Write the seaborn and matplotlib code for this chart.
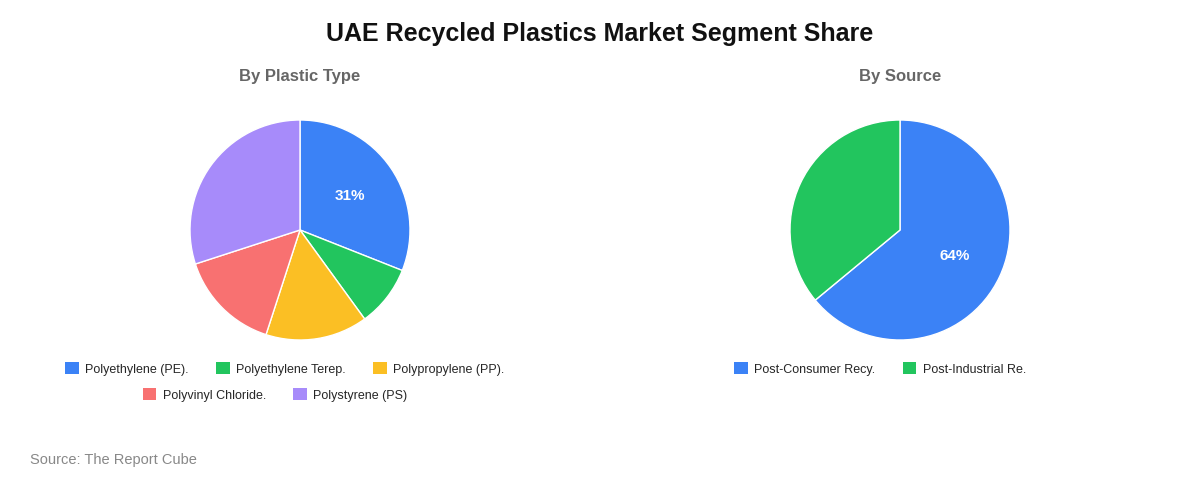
import matplotlib
matplotlib.use("Agg")
import matplotlib.pyplot as plt
import seaborn as sns
import numpy as np
from matplotlib.patches import Patch

type_labels = ["Polyethylene (PE).", "Polyethylene Terep.", "Polypropylene (PP).",
               "Polyvinyl Chloride.", "Polystyrene (PS)"]
type_values = [31, 9, 15, 15, 30]
type_colors = ["#3b82f6", "#22c55e", "#fbbf24", "#f87171", "#a78bfa"]

source_labels = ["Post-Consumer Recy.", "Post-Industrial Re."]
source_values = [64, 36]
source_colors = ["#3b82f6", "#22c55e"]

sns.set_style("white")
plt.rcParams['font.family'] = ['Liberation Sans', 'DejaVu Sans']

fig = plt.figure(figsize=(12, 4.8), dpi=100)
W, H = 1200, 480


def pie_axes(cx, cy, r):
    return fig.add_axes([(cx - r) / W, (H - cy - r) / H, 2 * r / W, 2 * r / H])


def draw_pie(ax, values, colors):
    ax.pie(values, colors=colors, startangle=90, counterclock=False,
           wedgeprops=dict(edgecolor="white", linewidth=1))
    # only the first slice gets a label, as in the reference
    total = sum(values)
    mid = 90 - 360 * values[0] / total / 2
    ax.text(0.55 * np.cos(np.radians(mid)), 0.55 * np.sin(np.radians(mid)),
            f"{round(values[0] / total * 100)}%", ha="center", va="center",
            color="white", fontsize=11, fontweight="bold")
    ax.set_xlim(-1, 1)
    ax.set_ylim(-1, 1)
    ax.set_aspect("equal")
    ax.axis("off")


ax1 = pie_axes(300, 230, 110)
draw_pie(ax1, type_values, type_colors)
ax2 = pie_axes(900, 230, 110)
draw_pie(ax2, source_values, source_colors)

fig.text(0.5, 1 - 34 / H, "UAE Recycled Plastics Market Segment Share", ha="center",
         va="center", fontsize=18, fontweight="bold", color="#111111")
fig.text(300 / W, 1 - 77 / H, "By Plastic Type", ha="center", va="center",
         fontsize=12, fontweight="bold", color="#666666")
fig.text(900 / W, 1 - 77 / H, "By Source", ha="center", va="center",
         fontsize=12, fontweight="bold", color="#666666")
fig.text(30 / W, 1 - 460 / H, "Source: The Report Cube", ha="left", va="center",
         fontsize=10.5, color="#888888")


def legend(labels, colors, cx, cy):
    handles = [Patch(facecolor=c, edgecolor="none") for c in colors]
    fig.legend(handles, labels, loc="center", bbox_to_anchor=(cx / W, 1 - cy / H),
               ncol=len(labels), frameon=False, fontsize=9, handlelength=1.1,
               handleheight=1.1, handletextpad=0.5, columnspacing=2.2)


legend(type_labels[:3], type_colors[:3], 285, 369)
legend(type_labels[3:], type_colors[3:], 275, 395)
legend(source_labels, source_colors, 880, 369)

fig.savefig("out.png", dpi=100, facecolor="white")
